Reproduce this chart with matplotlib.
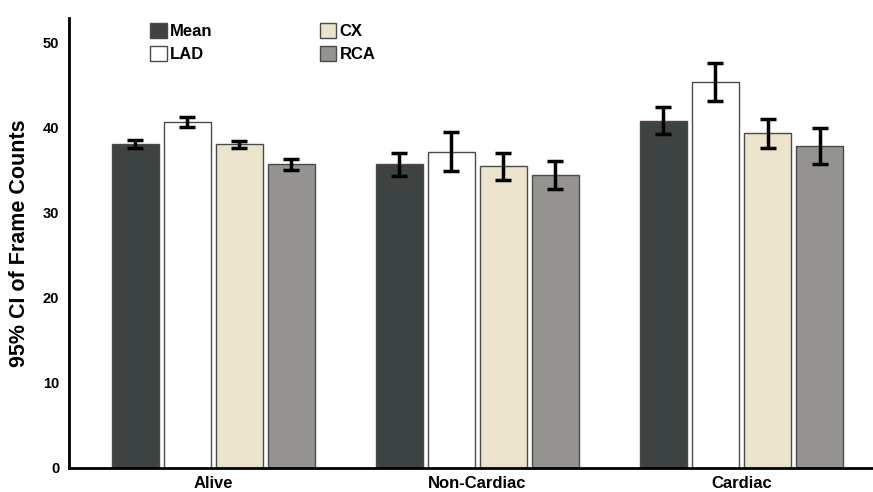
import numpy as np
import matplotlib.pyplot as plt

plt.rcParams['font.family'] = ['Liberation Sans', 'DejaVu Sans']

groups = ['Alive', 'Non-Cardiac', 'Cardiac']
series = ['Mean', 'LAD', 'CX', 'RCA']
colors = ['#3d4342', '#ffffff', '#ece3cc', '#959390']

# bar heights per series (Alive, Non-Cardiac, Cardiac)
mean_vals = [38.15, 35.8, 40.85]
lad_vals = [40.7, 37.2, 45.4]
cx_vals = [38.05, 35.55, 39.4]
rca_vals = [35.7, 34.4, 37.9]

# 95% CI bounds
mean_lo = [37.6, 34.3, 39.3]
mean_hi = [38.6, 37.1, 42.5]
lad_lo = [40.1, 34.9, 43.2]
lad_hi = [41.3, 39.5, 47.6]
cx_lo = [37.6, 33.9, 37.6]
cx_hi = [38.5, 37.1, 41.1]
rca_lo = [35.0, 32.8, 35.8]
rca_hi = [36.35, 36.15, 40.0]

vals = [mean_vals, lad_vals, cx_vals, rca_vals]
los = [mean_lo, lad_lo, cx_lo, rca_lo]
his = [mean_hi, lad_hi, cx_hi, rca_hi]

fig = plt.figure(figsize=(8.73, 4.92), dpi=100)
ax = fig.add_axes([0.079, 0.049, 0.921, 0.914])

x = np.arange(len(groups))
step = 0.197
width = 0.178
for i, name in enumerate(series):
    pos = x + (i - 1.5) * step
    v = np.array(vals[i])
    err = [v - np.array(los[i]), np.array(his[i]) - v]
    ax.bar(pos, v, width, color=colors[i], edgecolor='#4a4a4a', linewidth=1.0,
           label=name, zorder=2)
    ax.errorbar(pos, v, yerr=err, fmt='none', ecolor='black', elinewidth=2.5,
                capsize=6, capthick=2.5, zorder=3)

ax.set_xlim(-0.547, 2.498)
ax.set_ylim(0, 52.9)
ax.set_yticks([0, 10, 20, 30, 40, 50])
ax.set_xticks(x)
ax.set_xticklabels(groups, fontsize=12, fontweight='bold')
for lab in ax.get_yticklabels():
    lab.set_fontweight('bold')
    lab.set_fontsize(10.5)
ax.tick_params(axis='both', length=0)
ax.tick_params(axis='y', pad=7)
ax.tick_params(axis='x', pad=6)

ax.spines['top'].set_visible(False)
ax.spines['right'].set_visible(False)
ax.spines['left'].set_linewidth(2)
ax.spines['bottom'].set_linewidth(2)

ax.set_ylabel('95% CI of Frame Counts', fontsize=15.5, fontweight='bold', labelpad=9)

ax.legend(ncol=2, loc='upper left', bbox_to_anchor=(0.095, 1.0), frameon=False,
          prop={'size': 12, 'weight': 'bold'}, handlelength=1.0, handleheight=1.0,
          handletextpad=0.2, columnspacing=6.4, labelspacing=0.38, borderpad=0.2,
          borderaxespad=0.1)

fig.savefig('out.png', dpi=100)
